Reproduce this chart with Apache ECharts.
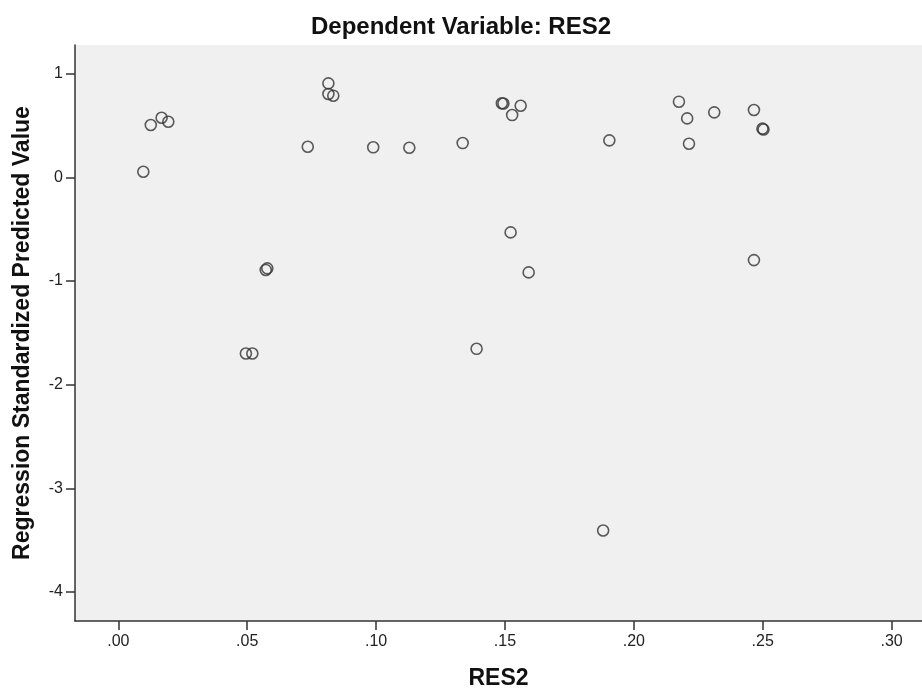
<!DOCTYPE html>
<html>
<head>
<meta charset="utf-8">
<script src="https://cdn.jsdelivr.net/npm/echarts@6/dist/echarts.min.js"></script>
<style>html,body{margin:0;padding:0;background:#fff;}#c{width:922px;height:690px;}</style>
</head>
<body>
<div id="c"></div>
<script>
// RES2 (x) values
const res2 = [0.0097, 0.0126, 0.0168, 0.0194, 0.0735, 0.0815, 0.0815, 0.0834,
  0.0989, 0.1129, 0.1336, 0.1488, 0.1494, 0.1561, 0.1528, 0.1522, 0.1592,
  0.1905, 0.2175, 0.2207, 0.2312, 0.2214, 0.2466, 0.2499, 0.2503, 0.2466,
  0.0572, 0.0578, 0.0495, 0.0520, 0.1390, 0.1881];
// Regression Standardized Predicted Value (y)
const predicted = [0.054, 0.505, 0.575, 0.537, 0.295, 0.907, 0.804, 0.788,
  0.290, 0.286, 0.331, 0.715, 0.712, 0.691, 0.601, -0.531, -0.917,
  0.357, 0.730, 0.569, 0.627, 0.324, 0.650, 0.470, 0.462, -0.798,
  -0.893, -0.878, -1.699, -1.699, -1.654, -3.407];
const xTicks = [0, 0.05, 0.10, 0.15, 0.20, 0.25, 0.30];
const yTicks = [-4, -3, -2, -1, 0, 1];

const points = res2.map((x, i) => [x, predicted[i]]);
const font = '"Liberation Sans", Arial, sans-serif';

const chart = echarts.init(document.getElementById('c'), null, {renderer: 'canvas'});
chart.setOption({
  animation: false,
  backgroundColor: '#ffffff',
  title: {
    text: 'Dependent Variable: RES2',
    left: 'center',
    top: 10,
    textStyle: {fontFamily: font, fontSize: 24, fontWeight: 'bold', color: '#111'}
  },
  grid: {left: 75, right: 0, top: 45, bottom: 69, show: true, backgroundColor: '#f0f0f0', borderWidth: 0,
    containLabel: false, outerBoundsMode: 'none'},
  xAxis: {
    type: 'value',
    min: -0.0168, max: 0.3118,
    name: 'RES2', nameLocation: 'middle', nameGap: 46,
    nameTextStyle: {fontFamily: font, fontSize: 23, fontWeight: 'bold', color: '#111'},
    axisLine: {show: true, onZero: false, lineStyle: {color: '#333', width: 1.5}},
    axisTick: {show: true, length: 9, customValues: xTicks, lineStyle: {color: '#333', width: 1.5}},
    axisLabel: {customValues: xTicks, fontFamily: font, fontSize: 16, color: '#222', margin: 13,
      formatter: v => v.toFixed(2).replace(/^0/, '')},
    splitLine: {show: false}
  },
  yAxis: {
    type: 'value',
    min: -4.28, max: 1.277,
    name: 'Regression Standardized Predicted Value', nameLocation: 'middle', nameGap: 41,
    nameTextStyle: {fontFamily: font, fontSize: 23, fontWeight: 'bold', color: '#111'},
    axisLine: {show: true, onZero: false, lineStyle: {color: '#333', width: 1.5}},
    axisTick: {show: true, length: 9, customValues: yTicks, lineStyle: {color: '#333', width: 1.5}},
    axisLabel: {customValues: yTicks, fontFamily: font, fontSize: 16, color: '#222', margin: 12},
    splitLine: {show: false}
  },
  series: [{
    type: 'scatter',
    data: points,
    symbol: 'circle',
    symbolSize: 11,
    itemStyle: {color: 'rgba(0,0,0,0)', borderColor: '#333', borderWidth: 1.6},
    z: 5
  }, {
    // top border of the plot frame
    type: 'line', data: [], silent: true,
    markLine: {silent: true, symbol: 'none', label: {show: false},
      lineStyle: {color: '#777', width: 2, type: 'solid'},
      data: [{yAxis: 1.277}]}
  }]
});
</script>
</body>
</html>
